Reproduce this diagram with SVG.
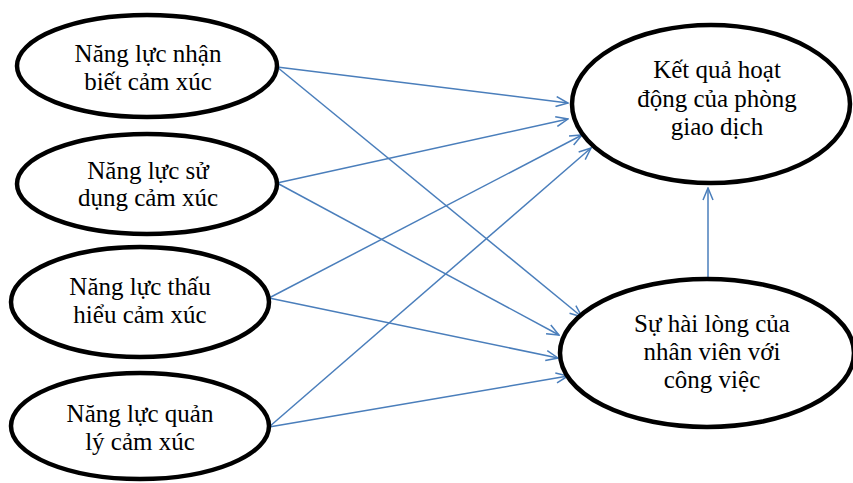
<svg xmlns="http://www.w3.org/2000/svg" width="853" height="483" viewBox="0 0 853 483">
<defs>
<marker id="arr" viewBox="0 0 14 12" refX="13" refY="6" markerWidth="14" markerHeight="12" markerUnits="userSpaceOnUse" orient="auto">
<path d="M1,1 L13,6 L1,11" fill="none" stroke="#4a7ebb" stroke-width="1.5"/>
</marker>
</defs>
<style>
.n ellipse{fill:#fff;stroke:#000;stroke-width:4.5}
.n text{font-family:"Liberation Serif","Times New Roman",serif;font-size:25px;fill:#000;text-anchor:middle}
.c line{stroke:#4a7ebb;stroke-width:1.5;marker-end:url(#arr)}
</style>
<rect width="853" height="483" fill="#fff"/>
<g class="c" id="connectors">
<line x1="277" y1="67" x2="568" y2="103"/>
<line x1="277" y1="67" x2="582" y2="317"/>
<line x1="277" y1="183" x2="568" y2="119"/>
<line x1="277" y1="183" x2="559" y2="335"/>
<line x1="269" y1="298" x2="582" y2="135"/>
<line x1="269" y1="298" x2="558" y2="358"/>
<line x1="269" y1="427" x2="591" y2="148"/>
<line x1="269" y1="427" x2="568" y2="376"/>
<line x1="708" y1="280" x2="708" y2="188"/>
</g>
<g class="n" id="n1">
<ellipse cx="147" cy="66" rx="130" ry="51"/>
<text x="148" y="62">Năng lực nhận</text>
<text x="148" y="90">biết cảm xúc</text>
</g>
<g class="n" id="n2">
<ellipse cx="147" cy="184" rx="130" ry="50"/>
<text x="148" y="179">Năng lực sử</text>
<text x="148" y="206">dụng cảm xúc</text>
</g>
<g class="n" id="n3">
<ellipse cx="140" cy="302" rx="129" ry="55"/>
<text x="140" y="295">Năng lực thấu</text>
<text x="140" y="323">hiểu cảm xúc</text>
</g>
<g class="n" id="n4">
<ellipse cx="140" cy="426" rx="129" ry="53"/>
<text x="140" y="422">Năng lực quản</text>
<text x="140" y="450">lý cảm xúc</text>
</g>
<g class="n" id="n5">
<ellipse cx="711" cy="104" rx="139" ry="79"/>
<text x="717" y="78">Kết quả hoạt</text>
<text x="717" y="107">động của phòng</text>
<text x="717" y="135">giao dịch</text>
</g>
<g class="n" id="n6">
<ellipse cx="707" cy="353" rx="147" ry="74"/>
<text x="712" y="332">Sự hài lòng của</text>
<text x="712" y="360">nhân viên với</text>
<text x="712" y="388">công việc</text>
</g>
</svg>
